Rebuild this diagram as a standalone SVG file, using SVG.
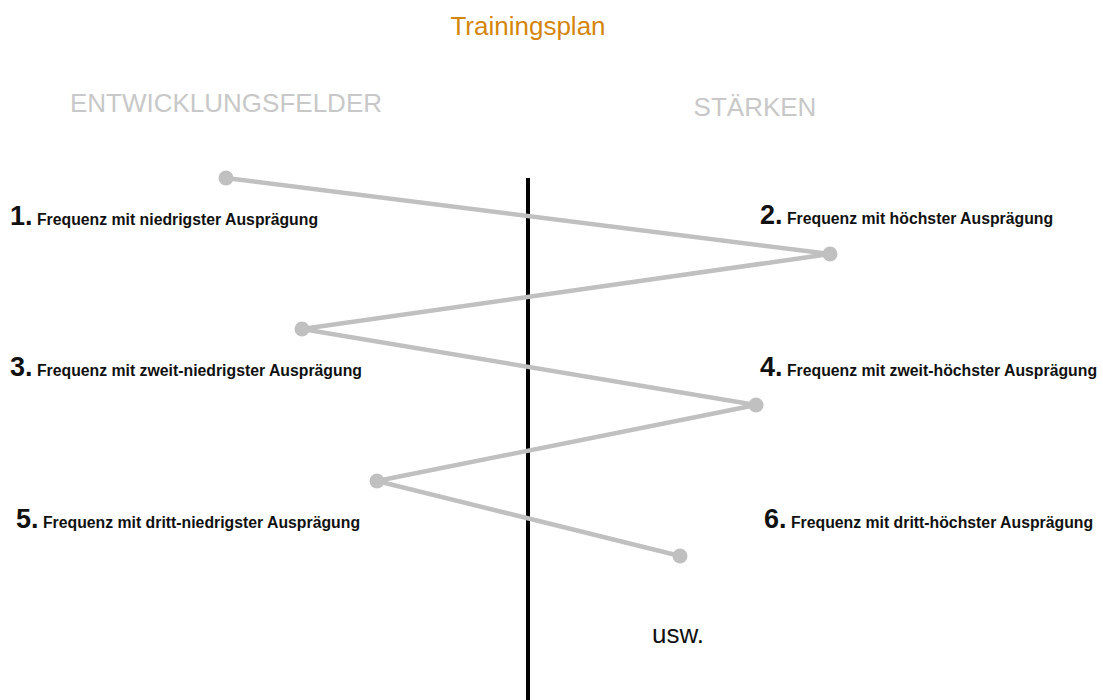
<svg xmlns="http://www.w3.org/2000/svg" width="1103" height="700" viewBox="0 0 1103 700">
<style>
.hdr{font-family:"Liberation Sans",Arial,sans-serif;font-size:26px;fill:#c8c8c8}
.lbl{font-family:"Liberation Sans",Arial,sans-serif;font-weight:bold;font-size:15.8px;fill:#111}
.num{font-size:27px}
.dot{fill:#c0c0c0}
</style>
<rect width="1103" height="700" fill="#fff"/>
<text x="528" y="35" text-anchor="middle" font-family="Liberation Sans,Arial,sans-serif" font-size="26" fill="#d4860b">Trainingsplan</text>
<text class="hdr" x="226" y="112" text-anchor="middle">ENTWICKLUNGSFELDER</text>
<text class="hdr" x="755" y="116" text-anchor="middle">STÄRKEN</text>
<line x1="528" y1="178" x2="528" y2="700" stroke="#000" stroke-width="4"/>
<g id="connectors" fill="none" stroke="#c0c0c0" stroke-width="4.5">
<polyline points="226,178 830,254 302,329 756,405 377,481 680,556"/>
</g>
<g id="n1"><circle class="dot" cx="226" cy="178" r="7.5"/><text class="lbl" x="10" y="225"><tspan class="num">1.</tspan> Frequenz mit niedrigster Ausprägung</text></g>
<g id="n2"><circle class="dot" cx="830" cy="254" r="7.5"/><text class="lbl" x="760" y="224"><tspan class="num">2.</tspan> Frequenz mit höchster Ausprägung</text></g>
<g id="n3"><circle class="dot" cx="302" cy="329" r="7.5"/><text class="lbl" x="10" y="376"><tspan class="num">3.</tspan> Frequenz mit zweit-niedrigster Ausprägung</text></g>
<g id="n4"><circle class="dot" cx="756" cy="405" r="7.5"/><text class="lbl" x="760" y="376"><tspan class="num">4.</tspan> Frequenz mit zweit-höchster Ausprägung</text></g>
<g id="n5"><circle class="dot" cx="377" cy="481" r="7.5"/><text class="lbl" x="16" y="528"><tspan class="num">5.</tspan> Frequenz mit dritt-niedrigster Ausprägung</text></g>
<g id="n6"><circle class="dot" cx="680" cy="556" r="7.5"/><text class="lbl" x="764" y="528"><tspan class="num">6.</tspan> Frequenz mit dritt-höchster Ausprägung</text></g>
<g id="usw"><text x="652" y="643" font-family="Liberation Sans,Arial,sans-serif" font-size="26" fill="#111">usw.</text></g>
</svg>
